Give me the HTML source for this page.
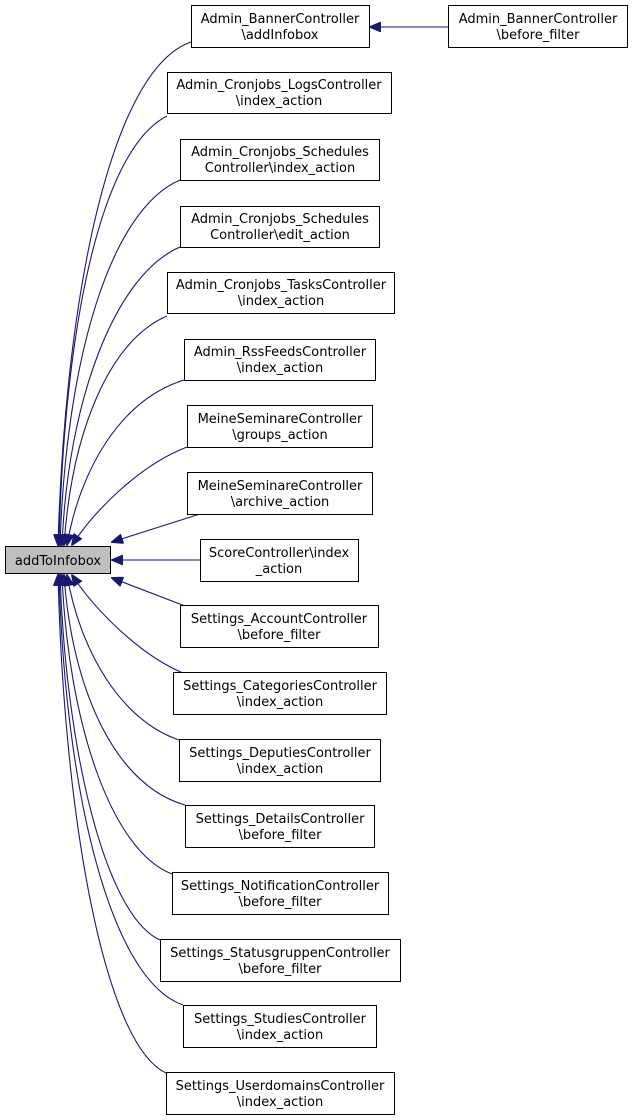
<!DOCTYPE html>
<html><head><meta charset="utf-8"><style>
html,body{margin:0;padding:0;background:#fff;}
svg{display:block;}
text{font-family:"DejaVu Sans","Liberation Sans",sans-serif;font-size:13px;fill:#000;}
</style></head><body>
<svg width="632" height="1120" viewBox="0 0 632 1120" xmlns="http://www.w3.org/2000/svg">
<defs>
<marker id="a" markerWidth="12" markerHeight="10" refX="11" refY="5" orient="auto" markerUnits="userSpaceOnUse">
<path d="M0,0 L12,5 L0,10 Z" fill="#191970" stroke="#191970"/>
</marker>
</defs>
<g fill="none" stroke="#191970" stroke-width="1.1" marker-end="url(#a)">
<path d="M191,42 C110,70 65,300 58,545"/>
<path d="M167,116 C100,150 64,330 59,545"/>
<path d="M180,180 C110,210 66,360 60,545"/>
<path d="M180,247 C115,275 68,400 62,545"/>
<path d="M167,316 C110,340 72,430 64,545"/>
<path d="M184,380 C120,400 80,470 67,545"/>
<path d="M187,447 C140,465 95,510 72,545"/>
<path d="M200,514 L112,542"/>
<path d="M200,560 L112,560"/>
<path d="M185,606 L112,578"/>
<path d="M183,673 C140,655 95,610 72,575"/>
<path d="M179,740 C120,720 80,650 67,575"/>
<path d="M185,805 C115,785 72,690 64,575"/>
<path d="M172,874 C110,850 68,720 62,575"/>
<path d="M160,940 C105,915 66,750 60,575"/>
<path d="M183,1005 C110,980 65,790 59,575"/>
<path d="M166,1073 C105,1045 64,820 58,575"/>
<path d="M448,27 L370,27"/>
</g>
<g stroke="#000" stroke-width="1" fill="#fff">
<rect x="5.5" y="546.5" width="105" height="27" fill="#bfbfbf"/>
<rect x="191.5" y="5.5" width="178" height="42"/>
<rect x="448.5" y="5.5" width="179" height="42"/>
<rect x="167.5" y="72.5" width="224" height="41"/>
<rect x="180.5" y="139.5" width="199" height="41"/>
<rect x="180.5" y="206.5" width="199" height="41"/>
<rect x="167.5" y="272.5" width="227" height="41"/>
<rect x="184.5" y="339.5" width="191" height="41"/>
<rect x="187.5" y="405.5" width="185" height="42"/>
<rect x="187.5" y="472.5" width="185" height="42"/>
<rect x="200.5" y="539.5" width="158" height="42"/>
<rect x="180.5" y="605.5" width="198" height="42"/>
<rect x="173.5" y="672.5" width="213" height="42"/>
<rect x="179.5" y="739.5" width="201" height="42"/>
<rect x="185.5" y="805.5" width="189" height="42"/>
<rect x="172.5" y="872.5" width="216" height="42"/>
<rect x="160.5" y="939.5" width="240" height="42"/>
<rect x="183.5" y="1005.5" width="193" height="42"/>
<rect x="166.5" y="1072.5" width="228" height="42"/>
</g>
<g text-anchor="middle">
<text x="58" y="565">addToInfobox</text>
<text x="280" y="23">Admin_BannerController</text><text x="280" y="39">\addInfobox</text>
<text x="538" y="23">Admin_BannerController</text><text x="538" y="39">\before_filter</text>
<text x="279" y="89">Admin_Cronjobs_LogsController</text><text x="279" y="105">\index_action</text>
<text x="280" y="156">Admin_Cronjobs_Schedules</text><text x="280" y="172">Controller\index_action</text>
<text x="280" y="223">Admin_Cronjobs_Schedules</text><text x="280" y="239">Controller\edit_action</text>
<text x="281" y="289">Admin_Cronjobs_TasksController</text><text x="281" y="305">\index_action</text>
<text x="280" y="356">Admin_RssFeedsController</text><text x="280" y="372">\index_action</text>
<text x="280" y="423">MeineSeminareController</text><text x="280" y="439">\groups_action</text>
<text x="280" y="490">MeineSeminareController</text><text x="280" y="506">\archive_action</text>
<text x="279" y="557">ScoreController\index</text><text x="279" y="573">_action</text>
<text x="279" y="623">Settings_AccountController</text><text x="279" y="639">\before_filter</text>
<text x="280" y="690">Settings_CategoriesController</text><text x="280" y="706">\index_action</text>
<text x="280" y="757">Settings_DeputiesController</text><text x="280" y="773">\index_action</text>
<text x="280" y="823">Settings_DetailsController</text><text x="280" y="839">\before_filter</text>
<text x="280" y="890">Settings_NotificationController</text><text x="280" y="906">\before_filter</text>
<text x="280" y="957">Settings_StatusgruppenController</text><text x="280" y="973">\before_filter</text>
<text x="280" y="1023">Settings_StudiesController</text><text x="280" y="1039">\index_action</text>
<text x="280" y="1090">Settings_UserdomainsController</text><text x="280" y="1106">\index_action</text>
</g>
</svg>
</body></html>
